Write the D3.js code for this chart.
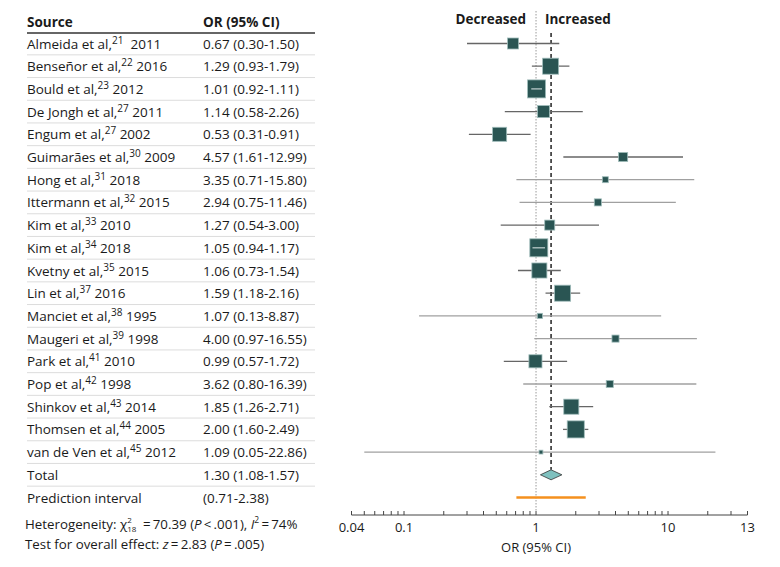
<!DOCTYPE html>
<html>
<head>
  <meta charset="utf-8">
  <style>
    body { margin: 0; background: #fff; }
    text { font-family: "Open Sans", "Noto Sans", sans-serif; fill: #1a1a1a; }
  </style>
</head>
<body>
<svg id="forest" width="780" height="567"></svg>
<script src="https://d3js.org/d3.v7.min.js"></script>
<script>
// study rows
var authors = ["Almeida", "Benseñor", "Bould", "De Jongh", "Engum", "Guimarães", "Hong", "Ittermann",
  "Kim", "Kim", "Kvetny", "Lin", "Manciet", "Maugeri", "Park", "Pop", "Shinkov", "Thomsen", "van de Ven"];
var refs = ["21", "22", "23", "27", "27", "30", "31", "32", "33", "34", "35", "37", "38", "39", "41", "42", "43", "44", "45"];
var years = ["\u00a02011", "2016", "2012", "2011", "2002", "2009", "2018", "2015", "2010", "2018", "2015", "2016",
  "1995", "1998", "2010", "1998", "2014", "2005", "2012"];
var or = [0.67, 1.29, 1.01, 1.14, 0.53, 4.57, 3.35, 2.94, 1.27, 1.05, 1.06, 1.59, 1.07, 4.00, 0.99, 3.62, 1.85, 2.00, 1.09];
var lo = [0.30, 0.93, 0.92, 0.58, 0.31, 1.61, 0.71, 0.75, 0.54, 0.94, 0.73, 1.18, 0.13, 0.97, 0.57, 0.80, 1.26, 1.60, 0.05];
var hi = [1.50, 1.79, 1.11, 2.26, 0.91, 12.99, 15.80, 11.46, 3.00, 1.17, 1.54, 2.16, 8.87, 16.55, 1.72, 16.39, 2.71, 2.49, 22.86];
// approximate study weights (%)
var weights = [4.1, 8.7, 11.0, 4.9, 6.7, 2.8, 1.2, 1.7, 3.4, 11.0, 7.7, 8.7, 0.9, 1.7, 5.8, 1.7, 7.7, 9.9, 0.5];

// pooled
var total = {or: 1.30, lo: 1.08, hi: 1.57};
var predInt = {lo: 0.71, hi: 2.38};

// axis
var tickLabels = [0.04, 0.1, 1, 10, 40];
var tickText = ["0.04", "0.1", "1", "10", "13"];
var minorTicks = [0.04, 0.05, 0.06, 0.07, 0.08, 0.09, 0.1, 0.2, 0.3, 0.4, 0.5, 0.6, 0.7, 0.8, 0.9,
  1, 2, 3, 4, 5, 6, 7, 8, 9, 10, 20, 30, 40];

var fmt = d3.format(".2f");
var svg = d3.select("#forest");
var fs = "13.5px";

var rowY0 = 43.5, rowH = 22.7;
var y = function(i) { return rowY0 + i * rowH; };

var x = d3.scaleLog().domain([0.04, 40]).range([351.5, 747.5]);
var size = d3.scaleSqrt().domain([0, d3.max(weights)]).range([0, 18]);

var colSrc = 27, colOr = 203, tableRight = 315;

// header
svg.append("text").attr("x", colSrc).attr("y", 27).style("font-weight", "bold").style("font-size", fs).text("Source");
svg.append("text").attr("x", colOr).attr("y", 27).style("font-weight", "bold").style("font-size", fs).text("OR (95% CI)");
svg.append("line").attr("x1", colSrc).attr("x2", tableRight).attr("y1", 33).attr("y2", 33)
  .attr("stroke", "#333").attr("stroke-width", 1.3);

var rows = authors.map(function(a, i) {
  return {author: a, ref: refs[i], year: years[i], or: or[i], lo: lo[i], hi: hi[i], w: weights[i]};
});

// row separators
var nRows = rows.length + 1; // studies + total
for (var k = 0; k < nRows; k++) {
  svg.append("line").attr("x1", colSrc).attr("x2", tableRight)
    .attr("y1", y(k) + rowH / 2).attr("y2", y(k) + rowH / 2)
    .attr("stroke", "#dcdcdc").attr("stroke-width", 1);
}

// labels
var lab = svg.selectAll(".src").data(rows).enter().append("text")
  .attr("class", "src").attr("x", colSrc).attr("y", function(d, i) { return y(i) + 5; })
  .style("font-size", fs);
lab.append("tspan").text(function(d) { return d.author + " et al,"; });
lab.append("tspan").attr("dy", -5).style("font-size", "10px").text(function(d) { return d.ref; });
lab.append("tspan").attr("dy", 5).text(function(d) { return " " + d.year; });

svg.selectAll(".orv").data(rows).enter().append("text")
  .attr("x", colOr).attr("y", function(d, i) { return y(i) + 5; })
  .style("font-size", fs)
  .text(function(d) { return fmt(d.or) + " (" + fmt(d.lo) + "-" + fmt(d.hi) + ")"; });

svg.append("text").attr("x", colSrc).attr("y", y(19) + 5).style("font-size", fs).text("Total");
svg.append("text").attr("x", colOr).attr("y", y(19) + 5).style("font-size", fs)
  .text(fmt(total.or) + " (" + fmt(total.lo) + "-" + fmt(total.hi) + ")");
svg.append("text").attr("x", colSrc).attr("y", y(20) + 5).style("font-size", fs).text("Prediction interval");
svg.append("text").attr("x", colOr).attr("y", y(20) + 5).style("font-size", fs)
  .text("(" + fmt(predInt.lo) + "-" + fmt(predInt.hi) + ")");

// reference lines
svg.append("line").attr("x1", x(1)).attr("x2", x(1)).attr("y1", 11).attr("y2", 512)
  .attr("stroke", "#999").attr("stroke-width", 1).attr("stroke-dasharray", "1.5,1.5");
svg.append("line").attr("x1", x(total.or)).attr("x2", x(total.or)).attr("y1", 33).attr("y2", y(19) - 5)
  .attr("stroke", "#222").attr("stroke-width", 1.5).attr("stroke-dasharray", "4,3");

svg.append("text").attr("x", x(1) - 10).attr("y", 24).attr("text-anchor", "end")
  .style("font-weight", "bold").style("font-size", fs).text("Decreased");
svg.append("text").attr("x", x(1) + 9).attr("y", 24)
  .style("font-weight", "bold").style("font-size", fs).text("Increased");

// CIs and boxes
var g = svg.selectAll(".study").data(rows).enter().append("g")
  .attr("transform", function(d, i) { return "translate(0," + y(i) + ")"; });
g.append("line")
  .attr("x1", function(d) { return x(d.lo); })
  .attr("x2", function(d) { return x(d.hi); })
  .attr("stroke", function(d) { return d.hi / d.lo > 15 ? "#a0a0a0" : "#666"; })
  .attr("stroke-width", 1.3);
g.append("rect")
  .attr("x", function(d) { return x(d.or) - size(d.w) / 2; })
  .attr("y", function(d) { return -size(d.w) / 2; })
  .attr("width", function(d) { return size(d.w); })
  .attr("height", function(d) { return size(d.w); })
  .attr("fill", "#2a5553").attr("stroke", "#9fbcba").attr("stroke-width", 0.8);
// CI fully inside the box: draw it on top in a light tone
g.filter(function(d) { return x(d.hi) - x(d.lo) < size(d.w); }).append("line")
  .attr("x1", function(d) { return x(d.lo); })
  .attr("x2", function(d) { return x(d.hi); })
  .attr("stroke", "#b8c8c8").attr("stroke-width", 1.3);

// pooled diamond
var dy = y(19);
svg.append("path")
  .attr("d", "M" + x(total.lo) + "," + dy + "L" + x(total.or) + "," + (dy - 5) +
    "L" + x(total.hi) + "," + dy + "L" + x(total.or) + "," + (dy + 5) + "Z")
  .attr("fill", "#7fc1bf").attr("stroke", "#333").attr("stroke-width", 0.8);

// prediction interval
svg.append("line").attr("x1", x(predInt.lo)).attr("x2", x(predInt.hi))
  .attr("y1", y(20)).attr("y2", y(20))
  .attr("stroke", "#f5901e").attr("stroke-width", 2.6);

// axis
var axisY = 515;
var ax = svg.append("g").attr("transform", "translate(0," + axisY + ")");
ax.append("line").attr("x1", x(0.04)).attr("x2", x(40)).attr("stroke", "#444").attr("stroke-width", 1);
ax.selectAll(".mt").data(minorTicks).enter().append("line")
  .attr("x1", function(d) { return x(d); }).attr("x2", function(d) { return x(d); })
  .attr("y1", 0).attr("y2", -4).attr("stroke", "#444").attr("stroke-width", 1);
ax.selectAll(".tl").data(tickLabels).enter().append("text")
  .attr("x", function(d) { return x(d); }).attr("y", 17).attr("text-anchor", "middle")
  .style("font-size", "13px").text(function(d, i) { return tickText[i]; });
svg.append("text").attr("x", x(1)).attr("y", 552).attr("text-anchor", "middle")
  .style("font-size", "13px").text("OR (95% CI)");

// heterogeneity
var hs = "13.3px";
var het = svg.append("text").attr("x", 25).attr("y", 529).style("font-size", hs);
het.append("tspan").text("Heterogeneity: \u03c7");
het.append("tspan").attr("dy", -6.5).style("font-size", "8px").text("2");
var sub = svg.append("text").attr("x", 0).attr("y", 532).style("font-size", "8px").text("18");
het.append("tspan").attr("dy", 6.5).attr("dx", 9).text("\u2009=\u200970.39 (");
het.append("tspan").style("font-style", "italic").text("P");
het.append("tspan").text("\u2009<\u2009.001), ");
het.append("tspan").style("font-style", "italic").text("I");
het.append("tspan").attr("dy", -6).style("font-size", "8.5px").text("2");
het.append("tspan").attr("dy", 6).text("\u2009=\u200974%");
// place the subscript under the superscript
var supNode = het.selectAll("tspan").nodes()[1];
var supBox = supNode.getBBox();
sub.attr("x", supBox.x);

var tst = svg.append("text").attr("x", 25).attr("y", 549).style("font-size", hs);
tst.append("tspan").text("Test for overall effect: ");
tst.append("tspan").style("font-style", "italic").text("z");
tst.append("tspan").text("\u2009=\u20092.83 (");
tst.append("tspan").style("font-style", "italic").text("P");
tst.append("tspan").text("\u2009=\u2009.005)");
</script>
</body>
</html>
